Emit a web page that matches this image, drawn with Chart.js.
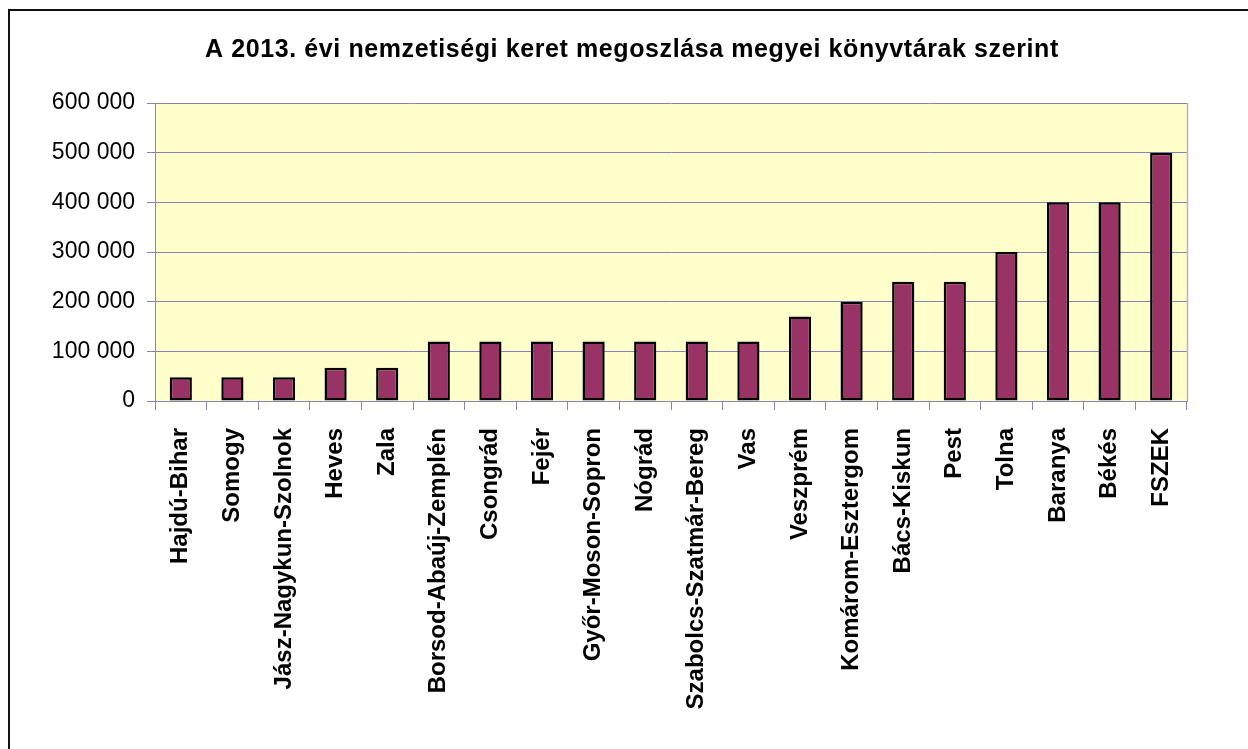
<!DOCTYPE html>
<html>
<head>
<meta charset="utf-8">
<script src="https://cdn.jsdelivr.net/npm/chart.js@4/dist/chart.umd.min.js"></script>
<style>
  html, body { margin: 0; padding: 0; background: #ffffff; overflow: hidden; }
  #wrap { position: relative; width: 1248px; height: 749px; overflow: hidden; }
  #frame { position: absolute; left: 8px; top: 9px; width: 3000px; height: 3000px; border: 2px solid #111; box-sizing: border-box; }
  canvas { position: absolute; left: 0; top: 0; }
</style>
</head>
<body>
<div id="wrap">
  <div id="frame"></div>
  <canvas id="c" width="1248" height="749"></canvas>
</div>
<script>
const titleText = 'A 2013. évi nemzetiségi keret megoszlása megyei könyvtárak szerint';
const categories = ['Hajdú-Bihar', 'Somogy', 'Jász-Nagykun-Szolnok', 'Heves', 'Zala',
  'Borsod-Abaúj-Zemplén', 'Csongrád', 'Fejér', 'Győr-Moson-Sopron', 'Nógrád',
  'Szabolcs-Szatmár-Bereg', 'Vas', 'Veszprém', 'Komárom-Esztergom', 'Bács-Kiskun',
  'Pest', 'Tolna', 'Baranya', 'Békés', 'FSZEK'];
const values = [48000, 48000, 48000, 67000, 67000,
  120000, 120000, 120000, 120000, 120000,
  120000, 120000, 170000, 200000, 240000,
  240000, 300000, 400000, 400000, 500000];
const yMin = 0, yMax = 600000, yStep = 100000;

const FONT = '"Liberation Sans", Arial, sans-serif';
const gridColor = '#8484b8';

function fmt(v) {
  return String(v).replace(/\B(?=(\d{3})+(?!\d))/g, ' ');
}

const plotBg = {
  id: 'plotBg',
  beforeDraw(chart) {
    const { ctx, chartArea: a } = chart;
    ctx.save();
    ctx.fillStyle = '#ffffcc';
    ctx.fillRect(a.left, a.top, a.right - a.left, a.bottom - a.top);
    ctx.restore();
  },
  afterDatasetsDraw(chart) {
    const { ctx, chartArea: a } = chart;
    ctx.save();
    ctx.strokeStyle = '#b4b4c4';
    ctx.lineWidth = 1.5;
    ctx.beginPath();
    ctx.moveTo(a.right + 0.5, a.top);
    ctx.lineTo(a.right + 0.5, a.bottom);
    ctx.stroke();
    ctx.restore();
  },
  afterDraw(chart) {
    const { ctx } = chart;
    ctx.save();
    ctx.font = 'bold 25px ' + FONT;
    ctx.fillStyle = '#000';
    ctx.textAlign = 'left';
    ctx.textBaseline = 'alphabetic';
    try { ctx.letterSpacing = '0.6px'; } catch (e) {}
    ctx.fillText(titleText, 205, 57);
    ctx.restore();
  }
};

new Chart(document.getElementById('c'), {
  type: 'bar',
  data: {
    labels: categories,
    datasets: [{
      data: values,
      backgroundColor: '#993366',
      borderColor: '#000000',
      borderWidth: 2.5,
      borderSkipped: false,
      barPercentage: 0.43,
      categoryPercentage: 1.0
    }]
  },
  options: {
    responsive: false,
    animation: false,
    devicePixelRatio: 1,
    layout: { padding: { left: 0, right: 61, top: 103, bottom: 0 } },
    plugins: {
      legend: { display: false },
      tooltip: { enabled: false },
      title: { display: false }
    },
    scales: {
      x: {
        offset: true,
        grid: { display: true, drawOnChartArea: false, drawTicks: true, tickLength: 9, color: gridColor, offset: true },
        border: { display: true, color: gridColor, width: 1 },
        ticks: {
          color: '#000',
          font: { family: FONT, size: 24, weight: 'bold' },
          minRotation: 90, maxRotation: 90,
          autoSkip: false,
          padding: 18
        },
        afterFit(scale) { scale.height = 348; }
      },
      y: {
        min: yMin, max: yMax,
        grid: { color: gridColor, lineWidth: 1, tickLength: 8, drawTicks: true },
        border: { display: true, color: gridColor, width: 1 },
        ticks: {
          stepSize: yStep,
          color: '#000',
          font: { family: FONT, size: 23 },
          padding: 12,
          callback: (v) => fmt(v)
        },
        afterFit(scale) { scale.width = 155; }
      }
    }
  },
  plugins: [plotBg]
});
</script>
</body>
</html>
